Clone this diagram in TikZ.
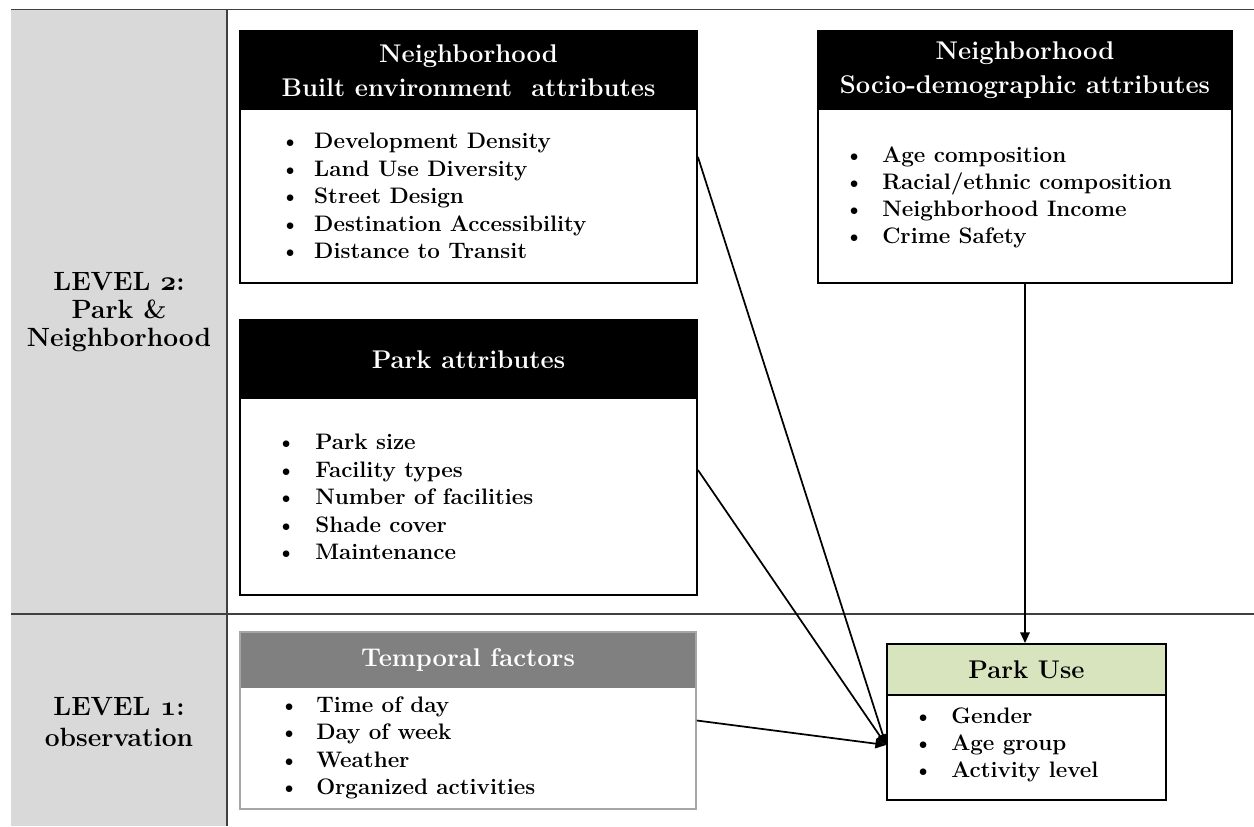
\documentclass[tikz,border=0pt]{standalone}
\usetikzlibrary{fit,calc,arrows.meta}
\definecolor{panelgray}{HTML}{D9D9D9}
\definecolor{rulegray}{HTML}{404040}
\definecolor{headgray}{HTML}{808080}
\definecolor{framegray}{HTML}{A6A6A6}
\definecolor{usegreen}{HTML}{D7E4BD}
% bullet followed by a fixed gap (in px) before the item text
\newcommand{\itm}[1]{\rlap{\textbullet}\hspace{#1\dimexpr 0.75pt\relax}}
% bold old-style figure
\newcommand{\osnum}[1]{{\fontencoding{OML}\fontfamily{cmm}\fontseries{b}\fontshape{it}\selectfont #1}}
\begin{document}
\begin{tikzpicture}[x=0.75pt,y=-0.75pt,
  headfont/.style={font=\fontsize{19.2}{25.5}\selectfont\bfseries},
  itemfont/.style={font=\fontsize{16.8}{20.6}\selectfont\bfseries},
  boxframe/.style={draw=black,line width=1.4pt,inner sep=0pt},
  blackhead/.style={fill=black,inner sep=0pt},
  headtext/.style={text=white,align=center,headfont,inner sep=0pt},
  itemlist/.style={itemfont,align=left,inner sep=0pt,anchor=west},
  levellabel/.style={font=\fontsize{19.8}{20.8}\selectfont\bfseries,align=center,inner sep=0pt},
  arr/.style={line width=1.3pt,-{Triangle[length=8pt,width=7pt]}},
  panelrule/.style={draw=rulegray,line width=0.9pt}]
\useasboundingbox (0,0) rectangle (1254,826);

% level panel and dividing rules
\fill[panelgray] (11,10) rectangle (227,826);
\draw[panelrule] (11,9.5) -- (1254,9.5);
\draw[panelrule] (11,614) -- (1254,614);
\draw[panelrule] (227,9.5) -- (227,826);

\node[levellabel] (lv2) at (119,312) {LEVEL \osnum{2}:\\Park \&\\Neighborhood};
\node[levellabel,font=\fontsize{19.8}{23}\selectfont\bfseries] (lv1) at (119,722) {LEVEL \osnum{1}:\\observation};

% neighborhood built environment
\node[blackhead,fit={(240,31)(697,110)}] (beh) {};
\node[headtext] (beht) at (beh.center) {Neighborhood\\Built environment\ \ attributes};
\node[boxframe,fit={(240,31)(697,283)}] (be) {};
\node[itemlist] (bel) at (280,196) {\itm{34}Development Density\\\itm{34}Land Use Diversity\\\itm{34}Street Design\\\itm{34}Destination Accessibility\\\itm{34}Distance to Transit};

% neighborhood socio-demographics
\node[blackhead,fit={(818,31)(1232,110)}] (sdh) {};
\node[headtext] (sdht) at (sdh.center) {Neighborhood\\Socio-demographic attributes};
\node[boxframe,fit={(818,31)(1232,283)}] (sd) {};
\node[itemlist,font=\fontsize{16.8}{20.3}\selectfont\bfseries] (sdl) at (844,197.5) {\itm{38}Age composition\\\itm{38}Racial/ethnic composition\\\itm{38}Neighborhood Income\\\itm{38}Crime Safety};

% park attributes
\node[blackhead,fit={(240,320)(697,399)}] (pah) {};
\node[headtext] (paht) at (pah.center) {Park attributes};
\node[boxframe,fit={(240,320)(697,595)}] (pa) {};
\node[itemlist] (pal) at (276,497) {\itm{39}Park size\\\itm{39}Facility types\\\itm{39}Number of facilities\\\itm{39}Shade cover\\\itm{39}Maintenance};

% temporal factors
\node[fill=headgray,inner sep=0pt,fit={(240,632)(696,688)}] (tfh) {};
\node[headtext] (tfht) at (tfh.center) {Temporal factors};
\node[draw=framegray,line width=1.2pt,inner sep=0pt,fit={(240,632)(696,809)}] (tf) {};
\node[itemlist,font=\fontsize{16.8}{20.5}\selectfont\bfseries] (tfl) at (279,748) {\itm{37}Time of day\\\itm{37}Day of week\\\itm{37}Weather\\\itm{37}Organized activities};

% park use (outcome)
\node[boxframe,fill=usegreen,fit={(887,644)(1166,695)}] (puh) {};
\node[headtext,text=black] (puht) at (puh.center) {Park Use};
\node[boxframe,fit={(887,644)(1166,800)}] (pu) {};
\node[itemlist,font=\fontsize{16.8}{20.3}\selectfont\bfseries] (pul) at (913,745) {\itm{38}Gender\\\itm{38}Age group\\\itm{38}Activity level};

% connectors
\coordinate (tgt) at ($(pu.west)+(0,23)$);
\coordinate (paout) at ($(pa.east)+(0,12.5)$);
\draw[arr] (be.east) -- (tgt);
\draw[arr] (paout) -- (tgt);
\draw[arr] (tf.east) -- (tgt);
\draw[arr] (sd.south) -- (sd.south |- pu.north);
\end{tikzpicture}
\end{document}
